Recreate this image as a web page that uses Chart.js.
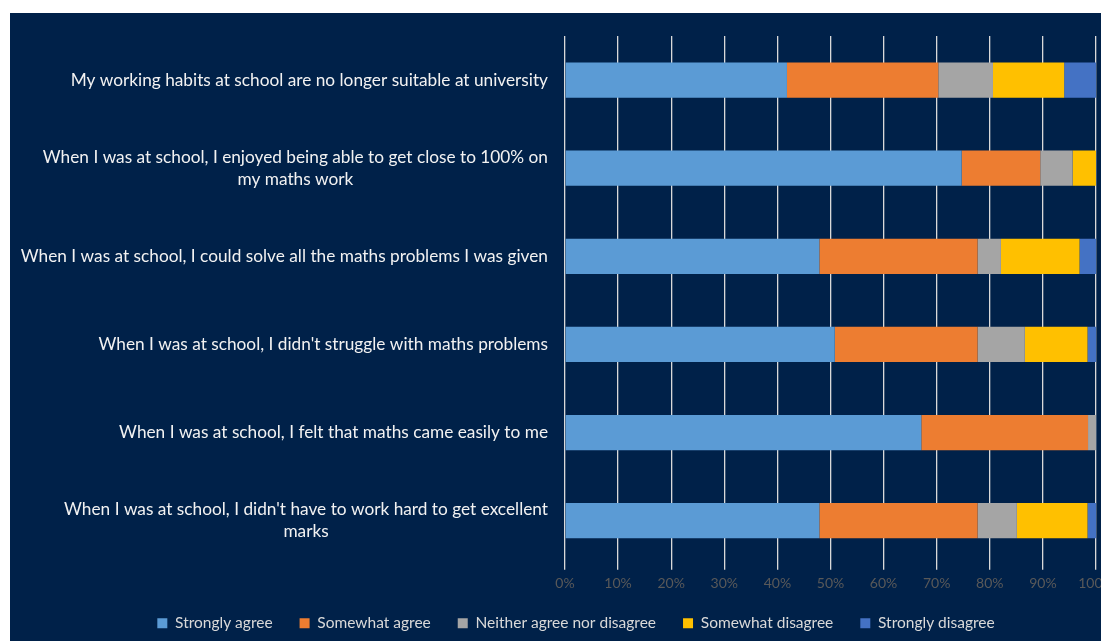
<!DOCTYPE html>
<html>
<head>
<meta charset="utf-8">
<script src="https://cdn.jsdelivr.net/npm/chart.js@4"></script>
<style>
  html, body { margin: 0; padding: 0; background: #ffffff; overflow: hidden; }
  #wrap { position: absolute; left: 10px; top: 13px; width: 1120px; height: 628px; background: #002149; }
</style>
</head>
<body>
<div id="wrap"><canvas id="surveyChart"></canvas></div>
<script>
// --- Data ---
const statements = [
    'My working habits at school are no longer suitable at university',
    ['When I was at school, I enjoyed being able to get close to 100% on', 'my maths work'],
    'When I was at school, I could solve all the maths problems I was given',
    "When I was at school, I didn't struggle with maths problems",
    'When I was at school, I felt that maths came easily to me',
    ["When I was at school, I didn't have to work hard to get excellent", 'marks']
];
const responseLabels = ['Strongly agree', 'Somewhat agree', 'Neither agree nor disagree', 'Somewhat disagree', 'Strongly disagree'];
const stronglyAgree    = [41.8, 74.7, 47.9, 50.8, 67.1, 47.9];
const somewhatAgree    = [28.5, 14.8, 29.8, 26.9, 31.4, 29.8];
const neither          = [10.3, 6.1, 4.4, 8.9, 1.5, 7.4];
const somewhatDisagree = [13.4, 4.4, 14.8, 11.8, 0, 13.3];
const stronglyDisagree = [6.0, 0, 3.1, 1.6, 0, 1.6];
const percentTicks = [0, 10, 20, 30, 40, 50, 60, 70, 80, 90, 100];

const colours = ['#5b9bd5', '#ed7d31', '#a5a5a5', '#ffc000', '#4472c4'];
const series = [stronglyAgree, somewhatAgree, neither, somewhatDisagree, stronglyDisagree];

const fontFamily = "Lato, 'Liberation Sans', sans-serif";
const labelFont = { size: 17.25, lineHeight: 22, gap: 17 };

// Category labels: wrapped lines centred on each other, block right-aligned to the axis
const categoryLabels = {
    id: 'categoryLabels',
    afterDraw(chart) {
        const yScale = chart.scales.y;
        const c = chart.ctx;
        c.save();
        c.font = labelFont.size + 'px ' + fontFamily;
        c.fillStyle = '#f2f2f2';
        c.textAlign = 'center';
        c.textBaseline = 'middle';
        const right = yScale.right - labelFont.gap;
        statements.forEach((label, i) => {
            const lines = Array.isArray(label) ? label : [label];
            const blockWidth = Math.max(...lines.map(l => c.measureText(l).width));
            const centreX = right - blockWidth / 2;
            const centreY = yScale.getPixelForValue(i);
            const startY = centreY - (lines.length - 1) * labelFont.lineHeight / 2;
            lines.forEach((line, j) => c.fillText(line, centreX, startY + j * labelFont.lineHeight));
        });
        c.restore();
    }
};

const ctx = document.getElementById('surveyChart').getContext('2d');
const chart = new Chart(ctx, {
    type: 'bar',
    data: {
        labels: statements,
        datasets: series.map((vals, i) => ({
            label: responseLabels[i],
            data: vals,
            backgroundColor: colours[i],
            borderWidth: 0,
            categoryPercentage: 0.4,
            barPercentage: 1.0
        }))
    },
    options: {
        indexAxis: 'y',
        responsive: true,
        maintainAspectRatio: false,
        animation: false,
        layout: { padding: { top: 23, right: 34, bottom: 0, left: 46 } },
        scales: {
            x: {
                stacked: true,
                min: 0,
                max: 100,
                afterBuildTicks: axis => { axis.ticks = percentTicks.map(v => ({ value: v })); },
                afterFit: s => { s.height = s.height - 8; },
                grid: { color: '#d9d9d9', lineWidth: 1.3, tickLength: 5, drawTicks: true },
                border: { display: false },
                ticks: {
                    color: '#595959',
                    font: { family: fontFamily, size: 14 },
                    padding: 5,
                    callback: v => v + '%'
                }
            },
            y: {
                stacked: true,
                afterFit: s => { s.width = 509; },
                grid: { display: false, drawTicks: false },
                border: { display: false },
                ticks: { display: false }
            }
        },
        plugins: {
            legend: {
                position: 'bottom',
                labels: {
                    color: '#d9d9d9',
                    font: { family: fontFamily, size: 15.5 },
                    boxWidth: 10,
                    boxHeight: 10,
                    padding: 27
                }
            },
            tooltip: { enabled: false }
        }
    },
    plugins: [categoryLabels]
});
</script>
</body>
</html>
